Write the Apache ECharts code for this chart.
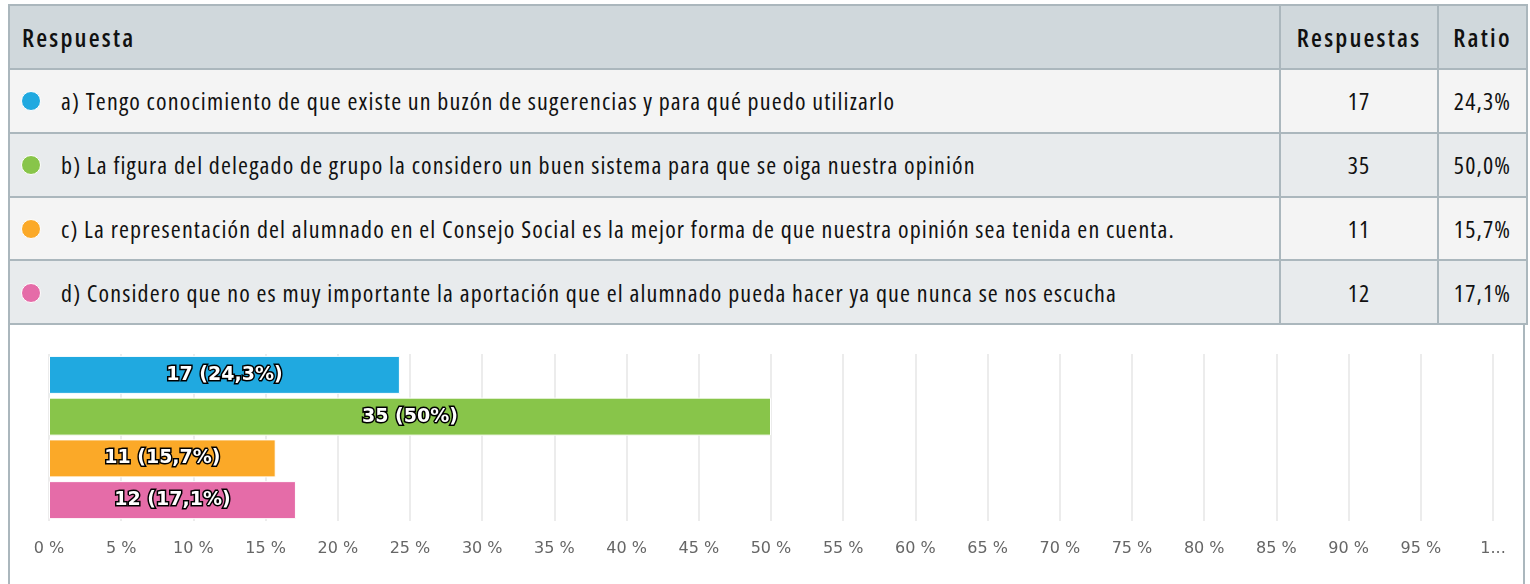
<!DOCTYPE html>
<html lang="es">
<head>
    <meta charset="utf-8">
    <title>Respuestas</title>
    <script src="https://cdn.jsdelivr.net/npm/echarts@6/dist/echarts.min.js"></script>
    <style type="text/css">
        html, body { margin: 0; padding: 0; width: 1530px; height: 584px; overflow: hidden; background: #fff; }
        #tabla {
            position: absolute; left: 8px; top: 4px; width: 1518px;
            border-collapse: collapse; table-layout: fixed;
            font-family: "Open Sans", sans-serif; font-stretch: 75%;
            font-size: 24px; letter-spacing: 1.15px; color: #111;
        }
        #tabla td, #tabla th { border: 2px solid #abb7bd; height: 61.8px; padding: 0; }
        #tabla th { background: #d0d8dc; font-weight: 600; font-size: 25px; letter-spacing: 2.2px; height: 62px; }
        #tabla th.first { text-align: left; padding-left: 12px; }
        #tabla tr.odd td { background: #f4f4f4; }
        #tabla tr.even td { background: #e8ebed; }
        #tabla td.txt { padding-left: 11px; white-space: nowrap; }
        #tabla td.num { text-align: center; }
        .dot { display: inline-block; width: 18px; height: 18px; border-radius: 50%; border: 1px solid #fff;
               vertical-align: -1px; margin-right: 20px; }
        .borde { position: absolute; top: 324px; width: 2px; height: 260px; background: #abb7bd; }
        #main { position: absolute; left: 0; top: 324px; width: 1530px; height: 260px; }
    </style>
</head>
<body>
    <table id="tabla">
        <colgroup><col style="width:1271px"><col style="width:158px"><col style="width:89px"></colgroup>
        <thead><tr><th class="first">Respuesta</th><th>Respuestas</th><th>Ratio</th></tr></thead>
        <tbody id="cuerpo"></tbody>
    </table>
    <div class="borde" style="left:8px"></div>
    <div class="borde" style="left:1523px"></div>
    <div id="main"></div>
    <script type="text/javascript">
        // datos
        var respuestas = [
            'a) Tengo conocimiento de que existe un buzón de sugerencias y para qué puedo utilizarlo',
            'b) La figura del delegado de grupo la considero un buen sistema para que se oiga nuestra opinión',
            'c) La representación del alumnado en el Consejo Social es la mejor forma de que nuestra opinión sea tenida en cuenta.',
            'd) Considero que no es muy importante la aportación que el alumnado pueda hacer ya que nunca se nos escucha'
        ];
        var conteos = [17, 35, 11, 12];
        var ratios = [24.3, 50.0, 15.7, 17.1];
        var colores = ['#20a9e0', '#88c54a', '#fba928', '#e56ca8'];
        var ticksX = [0, 5, 10, 15, 20, 25, 30, 35, 40, 45, 50, 55, 60, 65, 70, 75, 80, 85, 90, 95, 100];

        // tabla
        var cuerpo = document.getElementById('cuerpo');
        for (var i = 0; i < respuestas.length; i++) {
            var tr = document.createElement('tr');
            tr.className = i % 2 == 0 ? 'odd' : 'even';
            tr.innerHTML = '<td class="txt"><span class="dot" style="background:' + colores[i] + '"></span>' + respuestas[i] + '</td>' +
                '<td class="num">' + conteos[i] + '</td>' +
                '<td class="num">' + ratios[i].toFixed(1).replace('.', ',') + '%</td>';
            cuerpo.appendChild(tr);
        }

        // grafico
        var myChart = echarts.init(document.getElementById('main'));
        var option = {
            animation: false,
            grid: { left: 49, right: 37, top: 30, bottom: 63 },
            xAxis: {
                type: 'value', min: ticksX[0], max: ticksX[ticksX.length - 1], interval: ticksX[1] - ticksX[0],
                axisLine: { show: false },
                axisTick: { show: false },
                splitLine: { show: true, lineStyle: { color: '#e6e6e6', width: 1.5 } },
                axisLabel: {
                    margin: 20,
                    color: '#666', fontSize: 16, fontFamily: 'DejaVu Sans',
                    formatter: function (v) { return v == 100 ? '1...' : v + ' %'; }
                }
            },
            yAxis: {
                type: 'category', inverse: true,
                data: respuestas.map(function (r) { return r.charAt(0); }),
                axisLine: { show: false },
                axisTick: { show: false },
                axisLabel: { show: false }
            },
            series: [{
                type: 'bar',
                barWidth: 38,
                data: ratios.map(function (r, i) {
                    return { value: r, itemStyle: { color: colores[i], borderColor: '#fff', borderWidth: 1 } };
                }),
                label: {
                    show: true, position: 'inside',
                    color: '#fff', fontWeight: 'bold', fontSize: 19, fontFamily: 'DejaVu Sans',
                    textBorderColor: '#000', textBorderWidth: 3,
                    formatter: function (p) {
                        return conteos[p.dataIndex] + ' (' + String(ratios[p.dataIndex]).replace('.', ',') + '%)';
                    }
                }
            }]
        };
        myChart.setOption(option);
    </script>
</body>
</html>
